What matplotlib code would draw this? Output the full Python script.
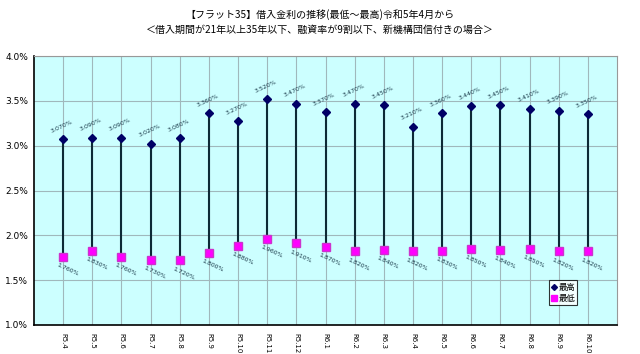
import matplotlib
matplotlib.use("Agg")
import matplotlib.pyplot as plt
from matplotlib.lines import Line2D

plt.rcParams['font.family'] = ['Noto Sans CJK JP', 'DejaVu Sans']

months = ["R5.4", "R5.5", "R5.6", "R5.7", "R5.8", "R5.9", "R5.10", "R5.11", "R5.12",
          "R6.1", "R6.2", "R6.3", "R6.4", "R6.5", "R6.6", "R6.7", "R6.8", "R6.9", "R6.10"]
high = [3.07, 3.09, 3.09, 3.02, 3.08, 3.36, 3.27, 3.52, 3.47,
        3.37, 3.47, 3.45, 3.21, 3.36, 3.44, 3.45, 3.41, 3.39, 3.35]
low = [1.76, 1.83, 1.76, 1.73, 1.72, 1.80, 1.88, 1.96, 1.91,
       1.87, 1.82, 1.84, 1.82, 1.83, 1.85, 1.84, 1.85, 1.82, 1.82]
yticks = [1.0, 1.5, 2.0, 2.5, 3.0, 3.5, 4.0]
title = "【フラット35】借入金利の推移(最低～最高)令和5年4月から\n＜借入期間が21年以上35年以下、融資率が9割以下、新機構団信付きの場合＞"

fig = plt.figure(figsize=(6.4, 3.54), dpi=100)
ax = fig.add_axes([34/640, 1-325/354, (617-34)/640, (325-56)/354])
ax.set_facecolor("#CCFFFF")

x = list(range(1, len(months)+1))
ax.vlines(x, low, high, color="#0d2a36", lw=1.5, zorder=3)
ax.plot(x, high, ls="none", marker="D", ms=4.5, color="#000066", zorder=4)
ax.plot(x, low, ls="none", marker="s", ms=6, color="#FF00FF", mec="#CC33CC", zorder=4)

for xi, h, l in zip(x, high, low):
    ax.annotate(f"{h:.3f}%", (xi, h), xytext=(-1, 4), textcoords="offset points",
                ha="center", va="bottom", rotation=25, fontsize=4.5, color="#1a3a4a",
                family="DejaVu Sans")
    ax.annotate(f"{l:.3f}%", (xi, l), xytext=(3, -4), textcoords="offset points",
                ha="center", va="top", rotation=-25, fontsize=4.5, color="#1a3a4a",
                family="DejaVu Sans")

ax.set_xlim(0, 20)
ax.set_ylim(1.0, 4.0)
ax.set_yticks(yticks)
ax.set_yticklabels([f"{v:.1f}%" for v in yticks], fontsize=6.5, family="DejaVu Sans")
ax.set_xticks(x)
ax.set_xticklabels(months, rotation=-90, fontsize=5, family="DejaVu Sans")
ax.tick_params(axis="both", length=0, pad=4)
ax.tick_params(axis="x", pad=6)
ax.grid(True, color="#a0b8bc", lw=0.8, zorder=1)
ax.set_axisbelow(True)
for s in ["top", "right"]:
    ax.spines[s].set_color("#999999")
    ax.spines[s].set_linewidth(0.8)
for s in ["left", "bottom"]:
    ax.spines[s].set_color("black")
    ax.spines[s].set_linewidth(1.2)

handles = [Line2D([], [], ls="none", marker="D", ms=3, color="#000066"),
           Line2D([], [], ls="none", marker="s", ms=4.5, color="#FF00FF")]
leg = ax.legend(handles, ["最高", "最低"], loc="lower left",
                bbox_to_anchor=((549-34)/583, (325-305)/269), fontsize=6,
                frameon=True, fancybox=False, edgecolor="black", handlelength=0.6,
                handletextpad=0.2, borderpad=0.3, labelspacing=0.2, borderaxespad=0)
leg.get_frame().set_linewidth(0.8)

fig.text(0.5, 1-22/354, title, ha="center", va="center", fontsize=7.2,
         linespacing=1.5)

fig.savefig("out.png", dpi=100, facecolor="white")
